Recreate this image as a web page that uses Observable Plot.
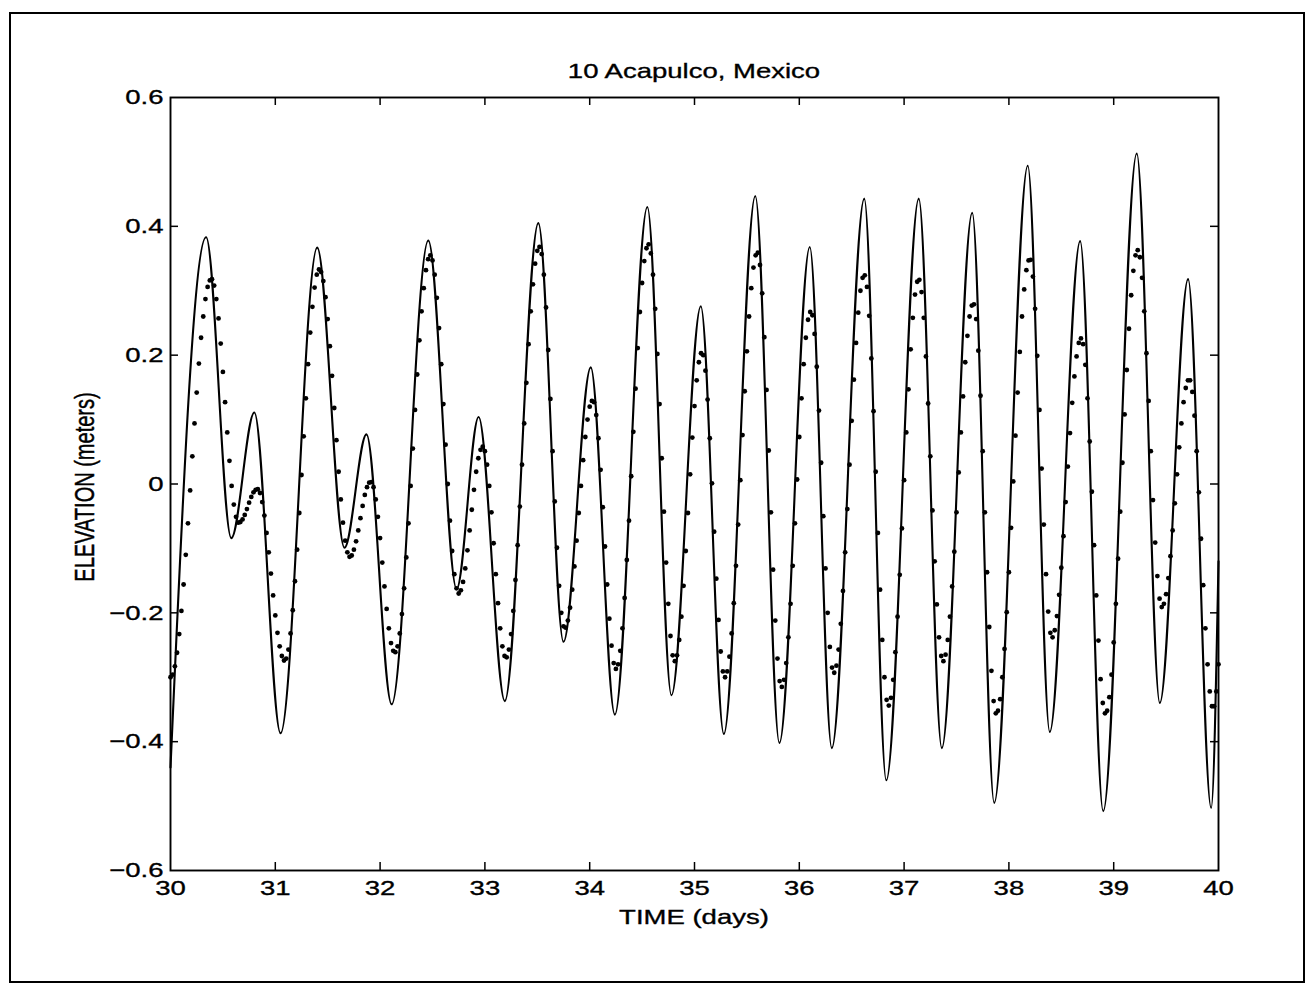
<!DOCTYPE html>
<html><head><meta charset="utf-8">
<script src="https://cdn.jsdelivr.net/npm/d3@7"></script>
<script src="https://cdn.jsdelivr.net/npm/@observablehq/plot@0.6"></script>
<style>
html,body{margin:0;padding:0;background:#fff;}
#wrap{position:relative;width:1309px;height:985px;overflow:hidden;font-family:"Liberation Sans",Arial,Helvetica,sans-serif;color:#000;}
#chart{position:absolute;left:0;top:0;}
#border{position:absolute;left:9px;top:12px;width:1296px;height:971px;border:2.5px solid #000;box-sizing:border-box;}
.lbl{position:absolute;white-space:nowrap;font-size:21px;line-height:1;color:#000;transform-origin:center center;-webkit-text-stroke:0.35px #000;}
</style></head><body>
<div id="wrap">
  <div id="chart"></div>
  <div id="border"></div>
  <div id="title" class="lbl" style="left:694px;top:70px;transform:translate(-50%,-50%) scaleX(1.31);">10 Acapulco, Mexico</div>
  <div id="xlabel" class="lbl" style="left:694px;top:916px;transform:translate(-50%,-50%) scaleX(1.31);">TIME (days)</div>
  <div id="ylabel" class="lbl" style="left:85px;top:487px;font-size:20px;transform:translate(-50%,-50%) scaleX(1.34) rotate(-90deg);">ELEVATION (meters)</div>
</div>
<script>
// ---- data ----
const xTicks = [30, 31, 32, 33, 34, 35, 36, 37, 38, 39, 40];
const yTicks = [-0.6, -0.4, -0.2, 0, 0.2, 0.4, 0.6];

// model (solid line): turning points
const modelTime = [30.00, 30.34, 30.58, 30.80, 31.05, 31.40, 31.66, 31.87, 32.11, 32.46,
  32.73, 32.94, 33.19, 33.51, 33.75, 34.01, 34.24, 34.55, 34.78, 35.06,
  35.28, 35.58, 35.81, 36.10, 36.31, 36.62, 36.83, 37.14, 37.36, 37.65,
  37.86, 38.18, 38.39, 38.68, 38.90, 39.22, 39.44, 39.71, 39.93, 40.00];
const modelElev = [-0.440, 0.383, -0.084, 0.111, -0.387, 0.367, -0.099, 0.077, -0.342, 0.378,
  -0.163, 0.104, -0.337, 0.405, -0.245, 0.181, -0.358, 0.430, -0.328, 0.276,
  -0.388, 0.447, -0.402, 0.368, -0.410, 0.443, -0.460, 0.443, -0.410, 0.421,
  -0.495, 0.494, -0.385, 0.377, -0.508, 0.513, -0.340, 0.318, -0.503, -0.120];

// observed (dots): half-hourly samples, day 30 to day 40
const obsStart = 30, obsEnd = 40;
const observed = [
  -0.300,-0.296,-0.283,-0.262,-0.233,-0.197,-0.156,-0.110,-0.061,-0.010,0.043,0.094,0.142,0.187,0.227,0.260,0.287,0.306,0.316,
  0.318,0.308,0.287,0.257,0.218,0.174,0.127,0.080,0.036,-0.003,-0.032,-0.051,-0.060,
  -0.059,-0.055,-0.048,-0.039,-0.029,-0.020,-0.013,-0.009,
  -0.008,-0.014,-0.028,-0.049,-0.076,-0.106,-0.139,-0.173,-0.204,-0.231,-0.252,-0.267,-0.274,
  -0.271,-0.257,-0.232,-0.196,-0.151,-0.102,-0.045,0.014,0.074,0.133,0.186,0.235,0.275,0.305,0.325,0.333,
  0.329,0.315,0.290,0.256,0.214,0.168,0.118,0.068,0.019,-0.024,-0.060,-0.088,-0.106,-0.113,
  -0.111,-0.102,-0.089,-0.072,-0.053,-0.034,-0.017,-0.005,0.002,
  0.003,-0.005,-0.024,-0.051,-0.084,-0.122,-0.159,-0.194,-0.224,-0.247,-0.259,
  -0.261,-0.252,-0.232,-0.202,-0.162,-0.114,-0.061,-0.003,0.055,0.115,0.170,0.223,0.268,0.304,0.332,0.349,0.355,
  0.347,0.325,0.289,0.242,0.186,0.124,0.061,0.000,-0.057,-0.104,-0.140,-0.162,-0.170,
  -0.165,-0.152,-0.131,-0.103,-0.072,-0.040,-0.009,0.019,0.040,0.053,0.058,
  0.051,0.030,-0.003,-0.044,-0.092,-0.140,-0.185,-0.224,-0.252,-0.267,
  -0.269,-0.257,-0.233,-0.197,-0.149,-0.095,-0.035,0.030,0.094,0.157,0.217,0.268,0.310,0.342,0.362,0.368,
  0.357,0.325,0.274,0.208,0.132,0.051,-0.027,-0.099,-0.158,-0.200,-0.221,
  -0.223,-0.212,-0.192,-0.164,-0.128,-0.088,-0.045,-0.003,0.037,0.073,0.100,0.120,0.129,
  0.127,0.107,0.071,0.022,-0.036,-0.097,-0.156,-0.209,-0.251,-0.278,-0.287,
  -0.280,-0.259,-0.224,-0.177,-0.118,-0.057,0.012,0.081,0.148,0.211,0.267,0.312,0.346,0.366,
  0.372,0.358,0.325,0.272,0.202,0.124,0.040,-0.043,-0.122,-0.186,-0.236,-0.266,
  -0.275,-0.266,-0.242,-0.206,-0.158,-0.104,-0.045,0.015,0.072,0.121,0.161,0.189,0.203,
  0.200,0.176,0.131,0.071,0.001,-0.074,-0.147,-0.211,-0.260,-0.291,
  -0.300,-0.291,-0.268,-0.232,-0.185,-0.127,-0.063,0.006,0.076,0.144,0.206,0.260,0.304,0.336,0.355,
  0.359,0.340,0.296,0.228,0.146,0.052,-0.044,-0.133,-0.212,-0.271,-0.306,
  -0.315,-0.304,-0.278,-0.238,-0.186,-0.127,-0.061,0.007,0.073,0.133,0.186,0.227,0.255,0.267,
  0.262,0.233,0.182,0.114,0.033,-0.050,-0.131,-0.200,-0.253,-0.285,
  -0.293,-0.282,-0.257,-0.217,-0.166,-0.106,-0.039,0.030,0.098,0.162,0.219,0.266,0.300,0.320,
  0.324,0.306,0.261,0.195,0.113,0.019,-0.076,-0.164,-0.242,-0.300,-0.335,
  -0.344,-0.332,-0.304,-0.261,-0.206,-0.141,-0.069,0.006,0.080,0.147,0.209,0.258,0.294,0.314,
  0.317,0.298,0.258,0.198,0.125,0.043,-0.041,-0.120,-0.187,-0.238,-0.267,
  -0.275,-0.265,-0.242,-0.206,-0.159,-0.105,-0.044,0.018,0.080,0.136,0.189,0.230,0.260,0.277,
  0.279,0.256,0.207,0.137,0.051,-0.044,-0.137,-0.222,-0.290,-0.337,-0.356,
  -0.352,-0.334,-0.300,-0.256,-0.199,-0.137,-0.068,0.004,0.075,0.142,0.205,0.260,0.302,0.332,0.347,
  0.348,0.322,0.272,0.199,0.115,0.024,-0.063,-0.140,-0.198,-0.231,
  -0.238,-0.227,-0.205,-0.172,-0.130,-0.081,-0.028,0.027,0.079,0.126,0.167,0.198,0.219,0.226,
  0.217,0.185,0.133,0.066,-0.012,-0.095,-0.173,-0.243,-0.303,-0.340,-0.356,
  -0.352,-0.331,-0.296,-0.246,-0.186,-0.116,-0.043,0.033,0.108,0.177,0.241,0.293,0.331,0.355,0.363,
  0.352,0.320,0.268,0.203,0.129,0.051,-0.025,-0.091,-0.143,-0.178,-0.191,
  -0.186,-0.171,-0.146,-0.112,-0.072,-0.030,0.015,0.057,0.094,0.127,0.149,0.161,
  0.161,0.143,0.106,0.051,-0.013,-0.085,-0.157,-0.224,-0.280,-0.322,-0.345,
  -0.345,-0.322,-0.280
];

// ---- build tables ----
const model = modelTime.map((t, i) => ({t, v: modelElev[i]}));
const step = (obsEnd - obsStart) / (observed.length - 1);
const obs = observed.map((v, i) => ({t: obsStart + i * step, v}));

const W = 1309, H = 985;
const mL = 170, mR = 91, mT = 97, mB = 115;
const innerW = W - mL - mR, innerH = H - mT - mB;
const tickLen = 8;
const fmtY = d => d === 0 ? "0" : (d < 0 ? "\u2212" : "") + Math.abs(d).toFixed(1);
const innerX = xTicks.slice(1, -1), innerY = yTicks.slice(1, -1);

const chart = Plot.plot({
  width: W, height: H,
  marginLeft: mL, marginRight: mR, marginTop: mT, marginBottom: mB,
  style: {fontFamily: "'Liberation Sans', Arial, Helvetica, sans-serif", fontSize: "21px", color: "#000", background: "transparent", overflow: "visible"},
  x: {domain: [30, 40], ticks: xTicks, tickSize: 0, tickPadding: 10, label: null, tickFormat: d => String(d)},
  y: {domain: [-0.6, 0.6], ticks: yTicks, tickSize: 0, tickPadding: 7, label: null, tickFormat: fmtY},
  marks: [
    Plot.tickX(innerX, {x: d => d, insetTop: innerH - tickLen, stroke: "#000", strokeWidth: 1.5}),
    Plot.tickX(innerX, {x: d => d, insetBottom: innerH - tickLen, stroke: "#000", strokeWidth: 1.5}),
    Plot.tickY(innerY, {y: d => d, insetRight: innerW - tickLen, stroke: "#000", strokeWidth: 1.5}),
    Plot.tickY(innerY, {y: d => d, insetLeft: innerW - tickLen, stroke: "#000", strokeWidth: 1.5}),
    Plot.line(model, {x: "t", y: "v", curve: "monotone-x", stroke: "#000", strokeWidth: 2.1}),
    Plot.dot(obs, {x: "t", y: "v", r: 2.4, fill: "#000", stroke: "none"}),
    Plot.frame({stroke: "#000", strokeWidth: 1.9})
  ]
});
document.getElementById("chart").appendChild(chart);

// widen tick labels horizontally like the scanned original, and thicken slightly
const SX = 1.31;
chart.querySelectorAll("text").forEach(t => {
  const tr = t.getAttribute("transform");
  if (tr) t.setAttribute("transform", tr + ` scale(${SX},1)`);
  else {
    const x = +t.getAttribute("x") || 0;
    t.setAttribute("transform", `translate(${x},0) scale(${SX},1) translate(${-x},0)`);
  }
  t.setAttribute("stroke", "#000");
  t.setAttribute("stroke-width", "0.35");
});
</script>
</body></html>
